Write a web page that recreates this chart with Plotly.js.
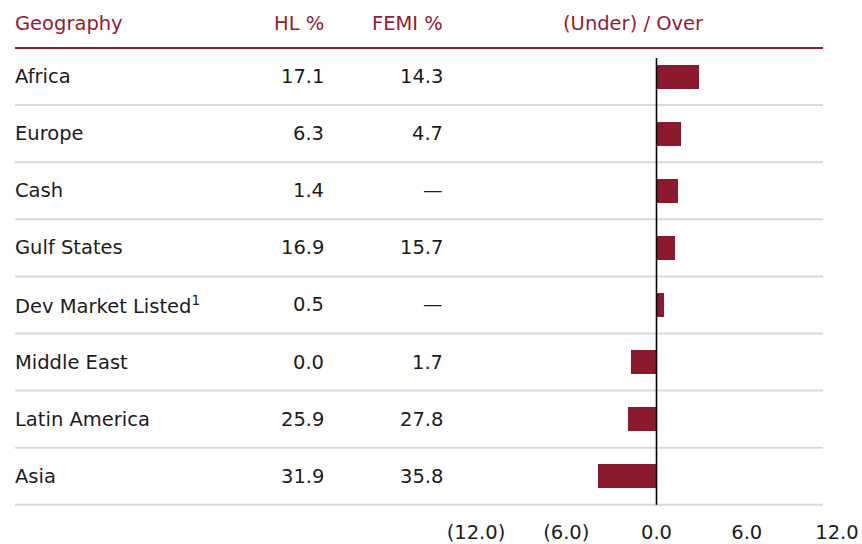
<!DOCTYPE html>
<html>
<head>
<meta charset="utf-8">
<script src="https://cdn.plot.ly/plotly-3.0.1.min.js"></script>
<style>html,body{margin:0;padding:0;background:#fff;}#chart{width:862px;height:544px;}</style>
</head>
<body>
<div id="chart"></div>
<script>
// ---- data ----
const categories = ["Africa", "Europe", "Cash", "Gulf States", "Dev Market Listed<sup>1</sup>", "Middle East", "Latin America", "Asia"];
const hlPct = [17.1, 6.3, 1.4, 16.9, 0.5, 0.0, 25.9, 31.9];
const femiPct = [14.3, 4.7, null, 15.7, null, 1.7, 27.8, 35.8];
const underOver = [2.8, 1.6, 1.4, 1.2, 0.5, -1.7, -1.9, -3.9];
const tickValues = [-12, -6, 0, 6, 12];
const tickLabels = ["(12.0)", "(6.0)", "0.0", "6.0", "12.0"];
const headers = ["Geography", "HL %", "FEMI %", "(Under) / Over"];

// ---- layout constants ----
const W = 862, H = 544;
const FONT = "'DejaVu Sans', sans-serif";
const FS = 19.5;
const RED = "#951b31";
const BAR = "#8c192d";
const TXT = "#1c1c1c";
const GRID = "#d9d9d9";
const topY = 48, rowH = 57.1, nRows = categories.length;
const botY = topY + rowH * nRows;
const px = x => x / W;
const py = y => 1 - y / H;

const idx = categories.map((_, i) => i);

const trace = {
  type: "bar",
  orientation: "h",
  x: underOver,
  y: idx,
  width: 0.42,
  marker: { color: BAR },
  hoverinfo: "skip"
};

const annotations = [];
const hdrFont = { family: FONT, size: FS, color: RED };
const bodyFont = { family: FONT, size: FS, color: TXT };
annotations.push({ xref: "paper", yref: "paper", x: px(13), y: py(24), xanchor: "left", yanchor: "middle", text: headers[0], showarrow: false, font: hdrFont });
annotations.push({ xref: "paper", yref: "paper", x: px(326), y: py(24), xanchor: "right", yanchor: "middle", text: headers[1], showarrow: false, font: hdrFont });
annotations.push({ xref: "paper", yref: "paper", x: px(445), y: py(24), xanchor: "right", yanchor: "middle", text: headers[2], showarrow: false, font: hdrFont });
annotations.push({ xref: "paper", yref: "paper", x: px(633), y: py(24), xanchor: "center", yanchor: "middle", text: headers[3], showarrow: false, font: hdrFont });

categories.forEach((c, i) => {
  annotations.push({ xref: "paper", yref: "y", x: px(13), y: i, xanchor: "left", yanchor: "middle", text: c, showarrow: false, font: bodyFont });
  annotations.push({ xref: "paper", yref: "y", x: px(326), y: i, xanchor: "right", yanchor: "middle", text: hlPct[i] === null ? "—" : hlPct[i].toFixed(1), showarrow: false, font: bodyFont });
  annotations.push({ xref: "paper", yref: "y", x: px(445), y: i, xanchor: "right", yanchor: "middle", text: femiPct[i] === null ? "—" : femiPct[i].toFixed(1), showarrow: false, font: bodyFont });
});

const shapes = [];
shapes.push({ type: "line", xref: "paper", yref: "paper", x0: px(15), x1: px(823), y0: py(topY), y1: py(topY), line: { color: RED, width: 2.2 } });
for (let i = 1; i <= nRows; i++) {
  const y = topY + rowH * i;
  shapes.push({ type: "line", xref: "paper", yref: "paper", x0: px(15), x1: px(823), y0: py(y), y1: py(y), line: { color: GRID, width: 2 }, layer: "below" });
}
shapes.push({ type: "line", xref: "x", yref: "paper", x0: 0, x1: 0, y0: py(58), y1: py(botY), line: { color: "#000", width: 1.6 } });

const layout = {
  width: W, height: H,
  margin: { l: 0, r: 0, t: 0, b: 0 },
  paper_bgcolor: "#fff", plot_bgcolor: "rgba(0,0,0,0)",
  showlegend: false,
  xaxis: {
    domain: [px(476), px(837)],
    range: [-12, 12],
    tickvals: tickValues, ticktext: tickLabels,
    showgrid: false, zeroline: false, showline: false,
    ticks: "", ticklabelstandoff: 14,
    tickfont: { family: FONT, size: FS, color: TXT },
    fixedrange: true
  },
  yaxis: {
    domain: [py(botY), py(topY)],
    range: [nRows - 0.5, -0.5],
    showgrid: false, zeroline: false, showline: false, showticklabels: false, ticks: "",
    fixedrange: true
  },
  annotations: annotations,
  shapes: shapes,
  bargap: 0
};

Plotly.newPlot("chart", [trace], layout, { displayModeBar: false, staticPlot: true });
</script>
</body>
</html>
